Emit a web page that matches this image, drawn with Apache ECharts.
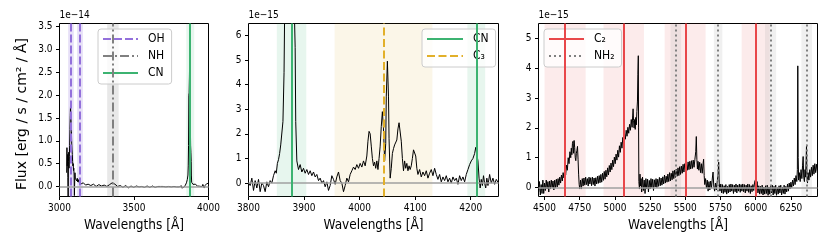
<!DOCTYPE html>
<html><head><meta charset="utf-8">
<script src="https://cdn.jsdelivr.net/npm/echarts@6/dist/echarts.min.js"></script>
<style>html,body{margin:0;padding:0;background:#fff}#c{width:830px;height:249px}</style>
</head><body><div id="c"></div>
<script>
// ---------- DATA (flux in units of 1e-15 erg/s/cm²/Å, wavelength in Å) ----------
const uvSpectrum = [
[3048,3.0],[3050,8.5],[3052,4.5],[3054,7.0],[3056,2.0],[3058,-3.0],[3060,5.5],[3062,7.5],[3064,4.0],[3066,6.5],
[3068,9.0],[3070,12.5],[3072,15.5],[3074,17.8],[3076,16.0],[3078,14.0],[3080,12.0],[3082,9.5],[3084,8.0],[3086,7.0],
[3088,5.5],[3090,4.5],[3092,5.0],[3094,3.5],[3096,4.0],[3098,2.5],[3100,-2.0],[3102,1.0],[3104,3.0],[3106,1.8],
[3108,2.2],[3110,1.4],[3113,2.0],[3116,1.2],[3119,1.8],[3122,1.0],[3126,1.5],[3130,0.9],[3134,1.3],[3138,0.8],
[3142,1.1],[3146,0.6],[3150,1.0],[3155,0.5],[3160,0.8],[3165,0.4],[3170,0.7],[3175,0.3],[3180,0.6],[3186,0.2],
[3192,0.5],[3198,0.3],[3204,0.6],[3210,0.2],[3216,0.4],[3222,0.1],[3228,0.5],[3234,0.2],[3240,0.4],[3246,0.0],
[3252,0.3],[3258,0.1],[3264,0.4],[3270,0.2],[3276,0.5],[3282,0.1],[3288,0.3],[3294,0.0],[3300,0.3],[3306,-0.1],
[3312,0.2],[3318,0.0],[3324,0.3],[3330,0.1],[3336,0.4],[3342,0.3],[3348,0.6],[3354,0.8],[3360,1.1],[3366,0.7],
[3372,0.5],[3378,0.2],[3384,0.4],[3390,0.0],[3396,0.2],[3402,-0.1],
[3408,0.2],[3414,0.0],[3420,0.3],[3426,-0.2],[3432,0.1],[3438,-0.1],[3444,0.2],[3450,-0.2],[3456,0.1],[3462,-0.3],
[3468,0.0],[3474,-0.2],[3480,0.1],[3486,-0.1],[3492,0.2],[3498,-0.2],[3504,0.0],[3510,-0.1],[3516,0.1],[3522,-0.2],
[3528,0.0],[3534,-0.1],[3540,0.1],[3546,-0.2],[3552,0.0],[3558,-0.1],[3564,0.1],[3570,-0.2],[3576,0.0],[3582,-0.1],
[3588,0.1],[3594,-0.1],[3600,0.0],[3606,-0.2],[3612,0.0],[3618,-0.1],[3624,0.1],[3630,-0.1],[3636,0.0],[3642,-0.2],
[3648,0.1],[3654,-0.1],[3660,0.0],[3666,-0.2],[3672,-0.1],[3678,0.0],[3684,-0.3],[3690,-0.1],[3696,0.0],[3702,-0.2],
[3708,0.0],[3714,-0.1],[3720,0.1],[3726,-0.1],[3732,0.0],[3738,-0.2],[3744,0.0],[3750,-0.1],[3756,0.1],[3762,-0.1],
[3768,0.0],[3774,-0.1],[3780,0.1],[3786,-0.1],[3792,0.0],[3798,0.1],
[3800,0.14],[3803,-0.1],[3806,0.2],[3809,-0.3],[3812,0.1],[3815,-0.2],[3818,0.15],[3821,-0.35],[3824,0.0],[3827,-0.1],
[3830,-0.35],[3833,0.05],[3836,-0.15],[3839,0.1],[3842,0.0],[3845,0.3],[3848,0.5],[3850,0.4],[3852,0.8],[3854,0.95],
[3856,1.2],[3858,1.55],[3860,1.5],[3862,2.5],[3864,4.5],[3866,9.0],[3868,20.0],[3870,20.5],[3872,24.0],[3874,29.0],
[3876,22.0],[3878,14.0],[3880,9.0],[3882,7.5],[3884,5.5],[3885,2.5],[3887,0.9],[3890,0.55],[3893,0.75],[3896,0.45],
[3899,0.6],[3902,0.4],[3905,0.55],[3908,0.35],[3911,0.5],[3914,0.3],[3917,0.45],[3920,0.25],[3923,0.35],[3926,0.1],
[3929,0.2],[3932,0.0],[3935,0.1],[3938,-0.15],[3941,0.05],[3944,-0.3],[3947,-0.1],[3950,0.3],[3953,0.15],[3956,-0.05],
[3959,0.25],[3962,0.45],[3965,0.1],[3968,0.0],[3971,-0.35],[3974,-0.1],[3977,0.2],[3980,0.05],[3983,0.35],[3986,0.5],
[3989,0.65],[3992,0.55],[3995,0.75],[3998,0.6],[4001,0.8],[4004,0.65],[4007,0.9],[4010,0.7],[4013,1.1],[4015,1.7],
[4017,2.1],[4019,2.0],[4021,1.5],[4023,1.0],[4025,0.7],[4027,0.85],[4029,0.6],[4031,0.9],[4033,0.55],[4035,1.0],
[4037,1.5],[4039,2.3],[4041,2.9],[4043,2.2],[4045,0.9],[4047,1.6],[4048,3.5],[4050,4.95],[4052,3.5],[4053,1.8],
[4055,0.2],[4057,0.6],[4059,1.2],[4061,1.4],[4063,1.55],[4065,1.6],[4067,1.75],[4069,2.2],[4071,2.45],[4073,2.4],
[4075,1.7],[4077,1.0],[4079,0.5],[4081,0.9],[4083,0.6],[4085,0.8],[4087,0.5],[4089,0.7],[4091,0.55],[4093,0.7],
[4095,1.0],[4097,1.35],[4099,1.4],[4101,1.1],[4103,0.6],[4105,0.35],[4108,0.55],[4111,0.25],[4114,0.45],[4117,0.3],
[4120,0.5],[4123,0.2],[4126,0.4],[4129,0.55],[4132,0.3],[4135,0.6],[4138,0.35],[4141,0.15],[4144,0.35],[4147,0.05],
[4150,0.25],[4153,0.1],[4156,0.3],[4159,0.05],[4162,0.2],[4165,0.0],[4168,0.25],[4171,0.1],[4174,0.2],[4177,-0.05],
[4180,0.3],[4183,0.1],[4186,0.25],[4189,0.05],[4192,0.35],[4195,0.55],[4198,0.75],[4201,0.9],[4204,1.0],[4207,1.2],
[4209,1.45],[4211,1.4],[4213,0.9],[4215,0.2],[4217,-0.2],[4219,0.15],[4221,-0.1],[4223,0.3],[4225,0.0],[4227,-0.2],
[4229,0.2],[4231,-0.1],[4234,0.35],[4237,0.0],[4240,0.2],[4243,-0.05],[4246,0.15],[4250,0.0]
];
const visSpectrum = [
[4458,-0.15],[4464,0.20],[4470,-0.25],[4476,0.10],[4482,-0.20],[4488,0.25],[4494,-0.20],[4500,0.15],[4506,-0.10],[4512,0.25],
[4518,-0.05],[4524,0.20],[4530,-0.15],[4536,0.22],[4542,-0.05],[4548,0.25],[4554,0.00],[4560,0.22],[4566,-0.08],[4572,0.25],
[4578,0.00],[4584,0.28],[4590,0.02],[4596,0.30],[4602,0.08],[4608,0.35],[4614,0.15],[4620,0.42],[4626,0.22],[4632,0.50],
[4638,0.32],[4644,0.60],[4650,0.42],[4656,0.75],[4662,0.58],[4668,1.00],[4674,0.80],[4680,1.20],[4686,1.00],[4690,1.32],
[4694,1.10],[4698,1.48],[4702,1.55],[4706,1.15],[4710,1.58],[4714,1.35],[4718,1.00],[4722,0.90],[4726,1.15],[4730,1.25],
[4734,1.38],[4738,0.95],[4742,0.45],[4746,0.10],[4750,-0.05],[4756,0.25],[4762,-0.05],[4768,0.30],[4774,0.05],[4780,0.32],
[4786,0.08],[4792,0.35],[4798,0.10],[4804,0.30],[4810,0.05],[4816,0.35],[4822,0.12],[4828,0.33],[4834,0.06],[4840,0.35],
[4846,0.10],[4852,0.32],[4858,0.05],[4864,0.33],[4870,0.12],[4876,0.38],[4882,0.14],[4888,0.40],[4894,0.16],[4900,0.44],
[4906,0.18],[4912,0.48],[4918,0.24],[4924,0.54],[4930,0.28],[4936,0.58],[4942,0.36],[4948,0.66],[4954,0.42],[4960,0.74],
[4966,0.52],[4972,0.82],[4978,0.60],[4984,0.92],[4990,0.70],[4996,1.02],[5002,0.80],[5008,1.12],[5014,0.92],[5020,1.25],
[5026,1.02],[5032,1.40],[5038,1.18],[5044,1.52],[5050,1.32],[5056,1.68],[5062,1.48],[5068,1.82],[5074,1.62],[5080,1.92],
[5086,1.72],[5092,2.02],[5098,1.82],[5104,2.12],[5110,1.92],[5116,2.28],[5122,2.02],[5126,2.40],[5129,2.64],[5132,2.25],
[5136,2.00],[5140,2.28],[5144,1.95],[5148,2.35],[5152,2.10],[5156,2.55],[5160,2.90],[5163,3.80],[5166,4.42],[5168,2.00],
[5170,0.20],[5174,-0.05],[5178,0.45],[5182,0.05],[5186,0.30],[5190,-0.15],[5196,0.35],[5202,-0.10],[5208,0.25],[5214,-0.20],
[5220,0.30],[5226,-0.05],[5232,0.28],[5238,-0.15],[5244,0.24],[5250,-0.05],[5256,0.30],[5262,0.00],[5268,0.28],[5274,-0.10],
[5280,0.26],[5286,0.02],[5292,0.30],[5298,0.00],[5304,0.28],[5310,0.04],[5316,0.34],[5322,0.06],[5328,0.32],[5334,0.08],
[5340,0.36],[5346,0.12],[5352,0.42],[5358,0.15],[5364,0.38],[5370,0.18],[5376,0.45],[5382,0.20],[5388,0.50],[5394,0.22],
[5400,0.48],[5406,0.26],[5412,0.56],[5418,0.30],[5424,0.58],[5430,0.34],[5436,0.62],[5442,0.38],[5448,0.66],[5454,0.40],
[5460,0.70],[5466,0.44],[5472,0.72],[5478,0.48],[5484,0.78],[5490,0.52],[5496,0.80],[5502,0.55],[5508,0.82],[5514,0.58],
[5520,0.86],[5526,0.60],[5532,0.88],[5538,0.62],[5544,0.90],[5550,0.64],[5556,0.92],[5562,0.68],[5568,0.95],[5574,1.20],
[5578,1.71],[5582,0.95],[5586,0.62],[5590,0.88],[5596,0.58],[5602,0.85],[5608,0.50],[5614,0.80],[5620,0.48],[5626,0.80],
[5630,0.95],[5634,0.40],[5638,0.10],[5644,0.30],[5650,-0.02],[5656,0.25],[5662,-0.12],[5668,0.20],[5674,-0.08],[5680,0.22],
[5686,-0.02],[5692,0.32],[5697,0.52],[5702,0.05],[5708,-0.12],[5714,0.15],[5720,-0.08],[5726,0.18],[5732,0.40],[5737,0.85],
[5741,0.15],[5746,-0.12],[5752,0.12],[5758,-0.18],[5764,0.10],[5770,-0.20],[5776,0.06],[5782,-0.16],[5788,0.10],[5794,-0.22],
[5800,0.04],[5806,-0.18],[5812,0.10],[5818,-0.15],[5824,0.12],[5830,-0.12],[5836,0.10],[5842,-0.20],[5848,0.08],[5854,-0.14],
[5860,0.12],[5866,-0.18],[5872,0.08],[5878,-0.12],[5884,0.12],[5890,-0.16],[5896,0.10],[5902,-0.12],[5908,0.12],[5914,-0.14],
[5920,0.10],[5926,-0.18],[5932,0.08],[5938,-0.12],[5944,0.12],[5950,-0.16],[5956,0.10],[5962,-0.20],[5968,0.06],[5974,-0.14],
[5980,0.10],[5986,-0.10],[5992,0.18],[5998,0.26],[6004,0.00],[6010,0.20],[6016,-0.18],[6022,0.06],[6028,-0.22],[6034,0.04],
[6040,-0.20],[6046,0.08],[6052,-0.25],[6058,0.02],[6064,-0.22],[6070,0.06],[6076,-0.20],[6082,0.08],[6088,-0.26],[6094,0.02],
[6100,-0.22],[6106,0.06],[6112,-0.18],[6118,0.08],[6124,-0.25],[6130,0.04],[6136,-0.20],[6142,0.08],[6148,-0.26],[6154,0.00],
[6160,-0.22],[6166,0.06],[6172,-0.18],[6178,0.08],[6184,-0.25],[6190,0.02],[6196,-0.20],[6202,0.08],[6208,-0.22],[6214,0.04],
[6220,-0.15],[6226,0.12],[6232,-0.12],[6238,0.15],[6244,-0.05],[6250,0.18],[6256,0.00],[6262,0.25],[6268,0.05],[6274,0.32],
[6280,0.10],[6286,0.40],[6292,0.20],[6296,0.60],[6299,4.08],[6302,1.00],[6305,0.25],[6310,0.50],[6316,0.20],[6322,0.60],
[6328,0.30],[6333,0.75],[6337,1.04],[6341,0.35],[6346,0.20],[6350,0.60],[6354,0.35],[6358,0.90],[6361,1.43],[6364,0.35],
[6368,0.15],[6372,0.50],[6378,0.25],[6384,0.60],[6390,0.35],[6396,0.68],[6402,0.40],[6408,0.75],[6414,0.45],[6420,0.80],
[6426,0.50],[6432,0.78],[6438,0.55]
];
// emission line positions (Å) and their shaded windows
const ohLines = [3078, 3138];
const ohBands = [[3058, 3096], [3118, 3157]];
const nhLines = [3360];
const nhBands = [[3320, 3397]];
const cnLines = [3877, 4210];
const cnBands = [[3851, 3904], [4194, 4226]];
const c3Lines = [4043];
const c3Bands = [[3955, 4131]];
const c2Lines = [4646, 5063, 5500, 6000];
const c2Bands = [[4500, 4792], [4919, 5206], [5353, 5644], [5900, 6100]];
const nh2Lines = [5430, 5732, 6104, 6361];
const nh2Bands = [[5395, 5470], [5703, 5763], [6066, 6145], [6325, 6400]];
// tick labels
const p1XTicks = [3000, 3500, 4000];
const p1YTicks = [0, 0.5, 1, 1.5, 2, 2.5, 3, 3.5];
const p2XTicks = [3800, 3900, 4000, 4100, 4200];
const p2YTicks = [0, 1, 2, 3, 4, 5, 6];
const p3XTicks = [4500, 4750, 5000, 5250, 5500, 5750, 6000, 6250];
const p3YTicks = [0, 1, 2, 3, 4, 5];

// ---------- CHART ----------
const F = "'DejaVu Sans Condensed', 'DejaVu Sans', sans-serif";
const FV = "'DejaVu Sans', sans-serif";
const COL = {oh:'#9370DB', nh:'#808080', cn:'#3CB371', c3:'#E2B02A', c2:'#E8474A', nh2:'#808080', zero:'#A0A0A0'};

const grids = [
  {left:59.5, top:23.5, width:149, height:173},
  {left:248.5, top:23.5, width:250, height:173},
  {left:538.5, top:23.5, width:279, height:173}
].map(g => Object.assign(g, {show:true, borderColor:'#000', borderWidth:1, backgroundColor:'rgba(0,0,0,0)', containLabel:false}));

function xAx(gi, min, max, ticks) {
  return {type:'value', gridIndex:gi, min, max,
    axisLine:{show:false, onZero:false}, splitLine:{show:false},
    axisTick:{show:true, length:3.5, customValues:ticks, lineStyle:{color:'#000', width:1}},
    axisLabel:{customValues:ticks, color:'#000', fontSize:10, fontFamily:F, margin:7,
      formatter: v => String(v)},
    name:'Wavelengths [Å]', nameLocation:'middle', nameGap:21,
    nameTextStyle:{color:'#000', fontSize:13.5, fontFamily:F}};
}
function yAx(gi, min, max, ticks, dec, expo) {
  return {type:'value', gridIndex:gi, min, max,
    axisLine:{show:false, onZero:false}, splitLine:{show:false},
    axisTick:{show:true, length:3.5, customValues:ticks, lineStyle:{color:'#000', width:1}},
    axisLabel:{customValues:ticks, color:'#000', fontSize:10, fontFamily:F, margin:7,
      formatter: v => v.toFixed(dec)},
    name:expo, nameLocation:'end', nameGap:3,
    nameTextStyle:{color:'#000', fontSize:10, fontFamily:F, align:'left', verticalAlign:'bottom'}};
}
function spectrum(gi, pts, scale) {
  return {type:'line', xAxisIndex:gi, yAxisIndex:gi, z:3, silent:true, clip:true,
    data: pts.map(p => [p[0], p[1] / scale]), showSymbol:false, symbol:'none',
    lineStyle:{color:'#000', width:1}};
}
function bands(gi, list, color) {
  return {type:'line', xAxisIndex:gi, yAxisIndex:gi, z:1, data:[], silent:true,
    markArea:{silent:true, itemStyle:{color}, data: list.map(b => [{xAxis:b[0]}, {xAxis:b[1]}])}};
}
function lines(gi, name, list, color, type) {
  return {type:'line', name, xAxisIndex:gi, yAxisIndex:gi, z:5, data:[], silent:true,
    symbol:'none', lineStyle:{color, width:2, type}, itemStyle:{color},
    markLine:{silent:true, symbol:['none','none'], label:{show:false}, animation:false,
      lineStyle:{color, width:2, type}, data: list.map(x => ({xAxis:x}))}};
}
function zero(gi) {
  return {type:'line', xAxisIndex:gi, yAxisIndex:gi, z:4, data:[], silent:true,
    markLine:{silent:true, symbol:['none','none'], label:{show:false}, animation:false,
      lineStyle:{color:COL.zero, width:1.5, type:'solid'}, data:[{yAxis:0}]}};
}
function legend(names, left, top, iw) {
  return {data:names, left, top, orient:'vertical', itemWidth:iw, itemHeight:12, itemGap:5,
    padding:[4,7,5,4], backgroundColor:'rgba(255,255,255,0.8)', borderColor:'#cccccc',
    borderWidth:1, borderRadius:3, selectedMode:false, itemStyle:{opacity:0},
    textStyle:{color:'#000', fontSize:12, fontFamily:F, padding:[0,0,0,5]}};
}

const DASH_OH = [8, 3], DASH_NH = [9, 3, 2, 3], DASH_C3 = [8, 3.5], DOT_NH2 = [2, 3];

const option = {
  animation:false,
  textStyle:{fontFamily:F},
  grid: grids,
  xAxis:[xAx(0, 3000, 4000, p1XTicks), xAx(1, 3800, 4250, p2XTicks), xAx(2, 4457, 6439, p3XTicks)],
  yAxis:[yAx(0, -0.22, 3.57, p1YTicks, 1, '1e\u221214'), yAx(1, -0.545, 6.48, p2YTicks, 0, '1e\u221215'),
         yAx(2, -0.30, 5.5, p3YTicks, 0, '1e\u221215')],
  legend:[legend(['OH','NH','CN'], 98, 29, 35), legend(['CN','C₃'], 422, 29, 36), legend(['C₂','NH₂'], 544, 29, 35)],
  graphic:[{type:'text', x:22, y:114, rotation:Math.PI/2,
    style:{text:'Flux [erg / s / cm² / Å]', fontSize:14, fontFamily:FV, fill:'#000', align:'center', verticalAlign:'middle'}}],
  series:[
    bands(0, ohBands, 'rgba(147,112,219,0.22)'), bands(0, nhBands, 'rgba(128,128,128,0.18)'), bands(0, cnBands, 'rgba(60,179,113,0.12)'),
    spectrum(0, uvSpectrum, 10), zero(0),
    lines(0, 'OH', ohLines, COL.oh, DASH_OH), lines(0, 'NH', nhLines, COL.nh, DASH_NH), lines(0, 'CN', cnLines, COL.cn, 'solid'),

    bands(1, cnBands, 'rgba(60,179,113,0.12)'), bands(1, c3Bands, 'rgba(218,165,32,0.10)'),
    spectrum(1, uvSpectrum, 1), zero(1),
    lines(1, 'CN', cnLines, COL.cn, 'solid'), lines(1, 'C₃', c3Lines, COL.c3, DASH_C3),

    bands(2, c2Bands, 'rgba(232,71,74,0.11)'), bands(2, nh2Bands, 'rgba(128,128,128,0.12)'),
    spectrum(2, visSpectrum, 1), zero(2),
    lines(2, 'C₂', c2Lines, COL.c2, 'solid'), lines(2, 'NH₂', nh2Lines, COL.nh2, DOT_NH2)
  ]
};
const chart = echarts.init(document.getElementById('c'), null, {renderer:'canvas'});
chart.setOption(option);
</script></body></html>
